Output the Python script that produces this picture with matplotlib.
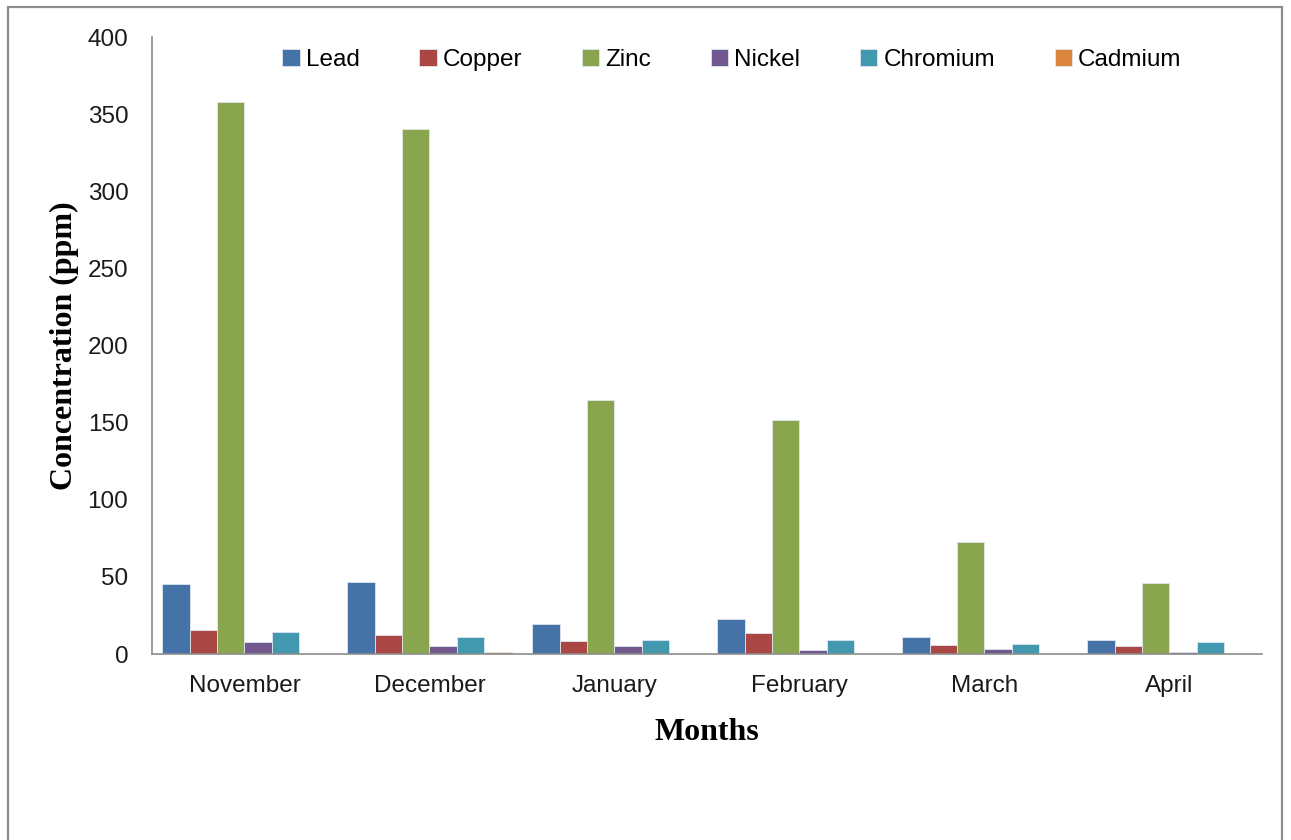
import numpy as np
import matplotlib.pyplot as plt
from matplotlib.patches import Rectangle

months = ['November', 'December', 'January', 'February', 'March', 'April']
metals = ['Lead', 'Copper', 'Zinc', 'Nickel', 'Chromium', 'Cadmium']

lead = [45.7, 46.8, 19.3, 22.7, 11.0, 9.3]
copper = [15.8, 12.6, 8.7, 13.6, 6.1, 5.4]
zinc = [358.0, 340.7, 164.7, 151.8, 72.5, 45.9]
nickel = [7.6, 5.2, 5.2, 2.8, 3.5, 1.1]
chromium = [14.5, 11.0, 9.3, 9.3, 6.7, 7.6]
cadmium = [0.0, 1.1, 0.0, 0.0, 0.0, 0.0]

colors = ['#4572A7', '#AA4643', '#89A54E', '#71588F', '#4198AF', '#DB843D']

fig = plt.figure(figsize=(12.91, 8.40), dpi=100)
ax = fig.add_axes([0.1177, 0.2214, 0.8598, 0.7345])

# thin grey frame round the whole chart area
fig.patches.append(Rectangle((8 / 1291, -0.05), 1282 / 1291 - 8 / 1291, 1.05 - 7 / 840,
                             transform=fig.transFigure, fill=False,
                             edgecolor='#8c8c8c', linewidth=1.6))

x = np.arange(len(months))
w = 0.148
series = [lead, copper, zinc, nickel, chromium, cadmium]
for i, (name, vals) in enumerate(zip(metals, series)):
    ax.bar(x + (i - 2.5) * w, vals, width=w, color=colors[i], label=name,
           edgecolor='#dfe6ee', linewidth=0.6)

ax.set_xlim(-0.5, 5.5)
ax.set_ylim(0, 400)
ax.set_yticks(range(0, 401, 50))
ax.set_xticks(x)
ax.set_xticklabels(months)

for side in ['top', 'right']:
    ax.spines[side].set_visible(False)
for side in ['left', 'bottom']:
    ax.spines[side].set_color('#8c8c8c')
    ax.spines[side].set_linewidth(1.2)

ax.tick_params(axis='both', length=0, labelsize=17.5, labelcolor='#1a1a1a')
ax.tick_params(axis='y', pad=17)
ax.tick_params(axis='x', pad=15)
for lbl in ax.get_xticklabels() + ax.get_yticklabels():
    lbl.set_family('Liberation Sans')

ax.set_ylabel('Concentration (ppm)', family='Liberation Serif', fontweight='bold',
              fontsize=23)
ax.set_xlabel('Months', family='Liberation Serif', fontweight='bold', fontsize=23)
ax.yaxis.set_label_coords(-0.066, 0.5)
ax.xaxis.set_label_coords(0.5, -0.103)

leg = ax.legend(loc='center', bbox_to_anchor=(0.5225, 0.963), ncol=6, frameon=False,
                prop={'family': 'Liberation Sans', 'size': 17.5},
                handlelength=0.72, handleheight=0.72, handletextpad=0.25,
                columnspacing=2.45)

fig.savefig('out.png', dpi=100)
